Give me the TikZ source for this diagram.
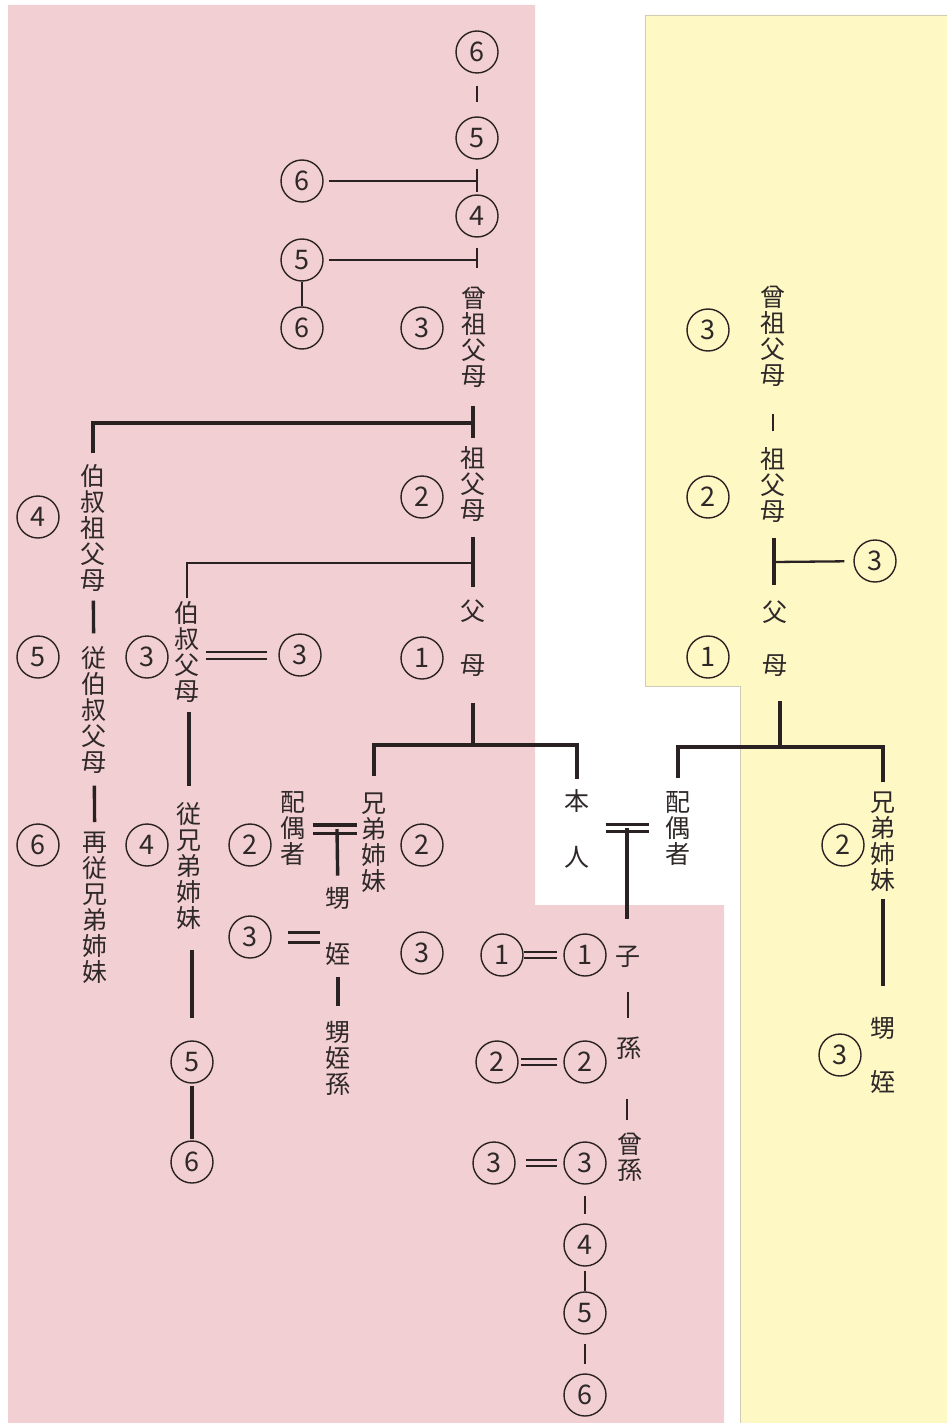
\documentclass[tikz,border=0pt]{standalone}
\usepackage{fontspec}
\newfontfamily\jpn{Noto Sans CJK JP}
\usetikzlibrary{calc}
\definecolor{pinkbg}{HTML}{F2CFD3}
\definecolor{yelbg}{HTML}{FEF8C5}
\definecolor{yelrim}{HTML}{CFCBB4}
\definecolor{ink}{HTML}{2A2222}
\definecolor{txt}{HTML}{2E2828}
\tikzset{
  cn/.style={circle, draw=ink, line width=1.4pt, minimum size=42pt, inner sep=0pt, text=txt, font=\jpn\fontsize{27}{27}\selectfont},
  vt/.style={inner sep=0pt, align=center, text=txt, font=\jpn\fontsize{25}{26}\selectfont},
  thinln/.style={draw=ink, line width=1.8pt},
  midln/.style={draw=ink, line width=2.3pt},
  thickln/.style={draw=ink, line width=3.4pt},
  dblpink/.style={draw=ink, double=pinkbg, line width=2pt, double distance=#1},
  dblwhite/.style={draw=ink, double=white, line width=3.2pt, double distance=#1},
}
\begin{document}
\begin{tikzpicture}[x=1pt,y=-1pt]
\useasboundingbox (0,0) rectangle (947,1423);
\fill[white] (0,0) rectangle (947,1423);
% background regions
\fill[pinkbg] (8,5) -- (535,5) -- (535,905) -- (724,905) -- (724,1423) -- (8,1423) -- cycle;
\fill[yelbg] (645,15) -- (947,15) -- (947,1423) -- (740,1423) -- (740,686) -- (645,686) -- cycle;
\draw[yelrim, line width=0.9pt] (947,15) -- (645,15) -- (645,686) -- (740,686) -- (740,1423);

% ---------------- pink side: ascendants ----------------
\node[cn] (c6a) at (477,52) {6};
\node[cn] (c5a) at (477,138) {5};
\node[cn] (c6b) at (302,181) {6};
\node[cn] (c4a) at (477,216) {4};
\node[cn] (c5b) at (302,260) {5};
\node[cn] (c6c) at (302,328) {6};
\node[cn] (c3a) at (422,328) {3};
\node[vt] (tsoso) at (474,337) {曾\\祖\\父\\母};
\node[vt] (tsofu) at (473,484) {祖\\父\\母};
\node[cn] (c2a) at (422,497) {2};
\node[vt] (tfu) at (473,611) {父};
\node[vt] (tbo) at (473,666) {母};
\node[cn] (c1a) at (422,658) {1};

% left columns
\node[vt] (thakuso) at (93,528) {伯\\叔\\祖\\父\\母};
\node[cn] (c4b) at (38,517) {4};
\node[cn] (c5c) at (38,657) {5};
\node[vt] (tjuhaku) at (94,710) {従\\伯\\叔\\父\\母};
\node[cn] (c6d) at (38,845) {6};
\node[vt] (tsaiju) at (95,908) {再\\従\\兄\\弟\\姉\\妹};

\node[vt] (thaku) at (187,652) {伯\\叔\\父\\母};
\node[cn] (c3b) at (147,657) {3};
\node[cn] (c3c) at (300,655) {3};
\node[vt] (tjuke) at (189,866) {従\\兄\\弟\\姉\\妹};
\node[cn] (c4c) at (147,845) {4};
\node[cn] (c5d) at (192,1062) {5};
\node[cn] (c6e) at (192,1162) {6};

\node[vt] (thaigu1) at (293,828) {配\\偶\\者};
\node[cn] (c2b) at (250,845) {2};
\node[vt] (tkyodai) at (374,843) {兄\\弟\\姉\\妹};
\node[cn] (c2c) at (422,845) {2};
\node[vt] (toi) at (338,898) {甥};
\node[vt] (tmei) at (338,954) {姪};
\node[cn] (c3d) at (250,937) {3};
\node[cn] (c3e) at (422,953) {3};
\node[vt] (toimago) at (338,1058) {甥\\姪\\孫};

% self and descendants
\node[vt] (thon) at (577,801) {本};
\node[vt] (tnin) at (577,857) {人};
\node[vt] (thaigu2) at (678,828) {配\\偶\\者};
\node[vt] (tko) at (628,957) {子};
\node[cn] (c1b) at (502,955) {1};
\node[cn] (c1c) at (585,955) {1};
\node[vt] (tmago) at (629,1048) {孫};
\node[cn] (c2d) at (497,1062) {2};
\node[cn] (c2e) at (585,1062) {2};
\node[vt] (thimago) at (630,1157) {曾\\孫};
\node[cn] (c3f) at (494,1163) {3};
\node[cn] (c3g) at (585,1163) {3};
\node[cn] (c4d) at (585,1245) {4};
\node[cn] (c5e) at (585,1313) {5};
\node[cn] (c6f) at (585,1395) {6};

% ---------------- yellow side ----------------
\node[cn] (c3h) at (708,330) {3};
\node[vt] (tysoso) at (773,336) {曾\\祖\\父\\母};
\node[vt] (tysofu) at (773,485) {祖\\父\\母};
\node[cn] (c2f) at (708,497) {2};
\node[cn] (c3i) at (875,561) {3};
\node[vt] (tyfu) at (775,612) {父};
\node[vt] (tybo) at (775,666) {母};
\node[cn] (c1d) at (708,657) {1};
\node[vt] (tykyodai) at (883,842) {兄\\弟\\姉\\妹};
\node[cn] (c2g) at (843,845) {2};
\node[vt] (tyoi) at (883,1028) {甥};
\node[vt] (tymei) at (883,1082) {姪};
\node[cn] (c3j) at (840,1055) {3};

% junction coordinates
\coordinate (jA) at (473,423);
\coordinate (jB) at (473,563);
\coordinate (jC) at (473,745);
\coordinate (jD) at (337,829);
\coordinate (jE) at (627,828);
\coordinate (jF) at (774,562);
\coordinate (jG) at (780,747);

% ---------------- connectors: pink ----------------
\draw[thinln, shorten <=12pt, shorten >=14pt] (c6a) -- (c5a);
\draw[thinln, shorten <=9pt, shorten >=2pt] (c5a) -- (c4a);
\draw[thinln, shorten <=5pt] (c6b) -- (c6b -| c5a);
\draw[thinln, shorten <=10pt, shorten >=19pt] (c4a) -- (c4a |- tsoso.north);
\draw[thinln, shorten <=5pt] (c5b) -- (c5b -| c4a);
\draw[thinln] (c5b) -- (c6c);

\draw[thickln, shorten <=19pt, shorten >=8pt] (tsoso.south -| jA) -- (tsofu.north -| jA);
\draw[thickln, shorten <=11pt] (thakuso) |- (jA);
\draw[thickln, shorten <=15pt, shorten >=12pt] (tsofu.south -| jB) -- (tfu.north -| jB);
\draw[midln, shorten <=3pt] (thaku.north) |- (jB);
\draw[thickln, shorten <=9pt, shorten >=13pt] (thakuso) -- (tjuhaku);
\draw[thickln, shorten <=12pt, shorten >=10pt] (tjuhaku) -- (tsaiju);
\draw[dblpink=5pt, shorten <=6pt, shorten >=11pt] (thaku.east |- c3c) -- (c3c);
\draw[thickln, shorten <=9pt, shorten >=16pt] (thaku.south -| tjuke) -- (tjuke);
\draw[thickln, shorten <=20pt, shorten >=22pt] (tjuke.south -| c5d) -- (c5d);
\draw[thickln, shorten <=2pt, shorten >=1pt] (c5d) -- (c6e);

\draw[thickln, shorten <=26pt] (tbo) -- (jC);
\draw[thickln, shorten <=17pt, shorten >=10pt] (tkyodai) |- (jC) -| (thon);
\draw[dblpink=5pt, line width=3.2pt, shorten <=7pt, shorten >=4pt] (thaigu1.east |- jD) -- (tkyodai.west |- jD);
\draw[thickln, shorten >=11pt] (jD) -- (toi);
\draw[dblpink=7pt, line width=3pt, shorten <=16pt, shorten >=18pt] (c3d) -- (c3d -| tmei);
\draw[thickln, shorten <=11pt, shorten >=15pt] (tmei) -- (toimago);

\draw[dblwhite=3.6pt, shorten <=16pt, shorten >=16pt] (tnin.east |- jE) -- (thaigu2.west |- jE);
\draw[thickln, shorten >=27pt] (jE) -- (tko.north -| jE);
\draw[dblpink=3.8pt, line width=2.2pt, shorten >=6pt] (c1b) -- (c1c);
\draw[thinln, shorten <=24pt, shorten >=19pt] (tko) -- (tmago.north -| tko);
\draw[dblpink=4pt, line width=2.2pt, shorten <=2pt, shorten >=6pt] (c2d) -- (c2e);
\draw[thinln, shorten <=40pt, shorten >=13pt] (tmago.south -| jE) -- (thimago.north -| jE);
\draw[dblpink=4pt, line width=2.2pt, shorten <=10pt, shorten >=6pt] (c3f) -- (c3g);
\draw[thinln, shorten <=11pt, shorten >=9pt] (c3g) -- (c4d);
\draw[thinln, shorten <=4pt] (c4d) -- (c5e);
\draw[thinln, shorten <=9pt, shorten >=9pt] (c5e) -- (c6f);

% ---------------- connectors: yellow ----------------
\draw[thinln, shorten <=28pt, shorten >=16pt] (tysoso) -- (tysofu);
\draw[thickln, shorten <=15pt, shorten >=15pt] (tysofu.south -| jF) -- (tyfu.north -| jF);
\draw[midln, shorten >=9pt] (jF) -- (c3i);
\draw[thickln, shorten <=24pt] (tybo.south -| jG) -- (jG);
\draw[thickln, shorten <=13pt, shorten >=10pt] (thaigu2) |- (jG) -| (tykyodai);
\draw[thickln, shorten <=7pt, shorten >=31pt] (tykyodai) -- (tyoi);
\end{tikzpicture}
\end{document}
